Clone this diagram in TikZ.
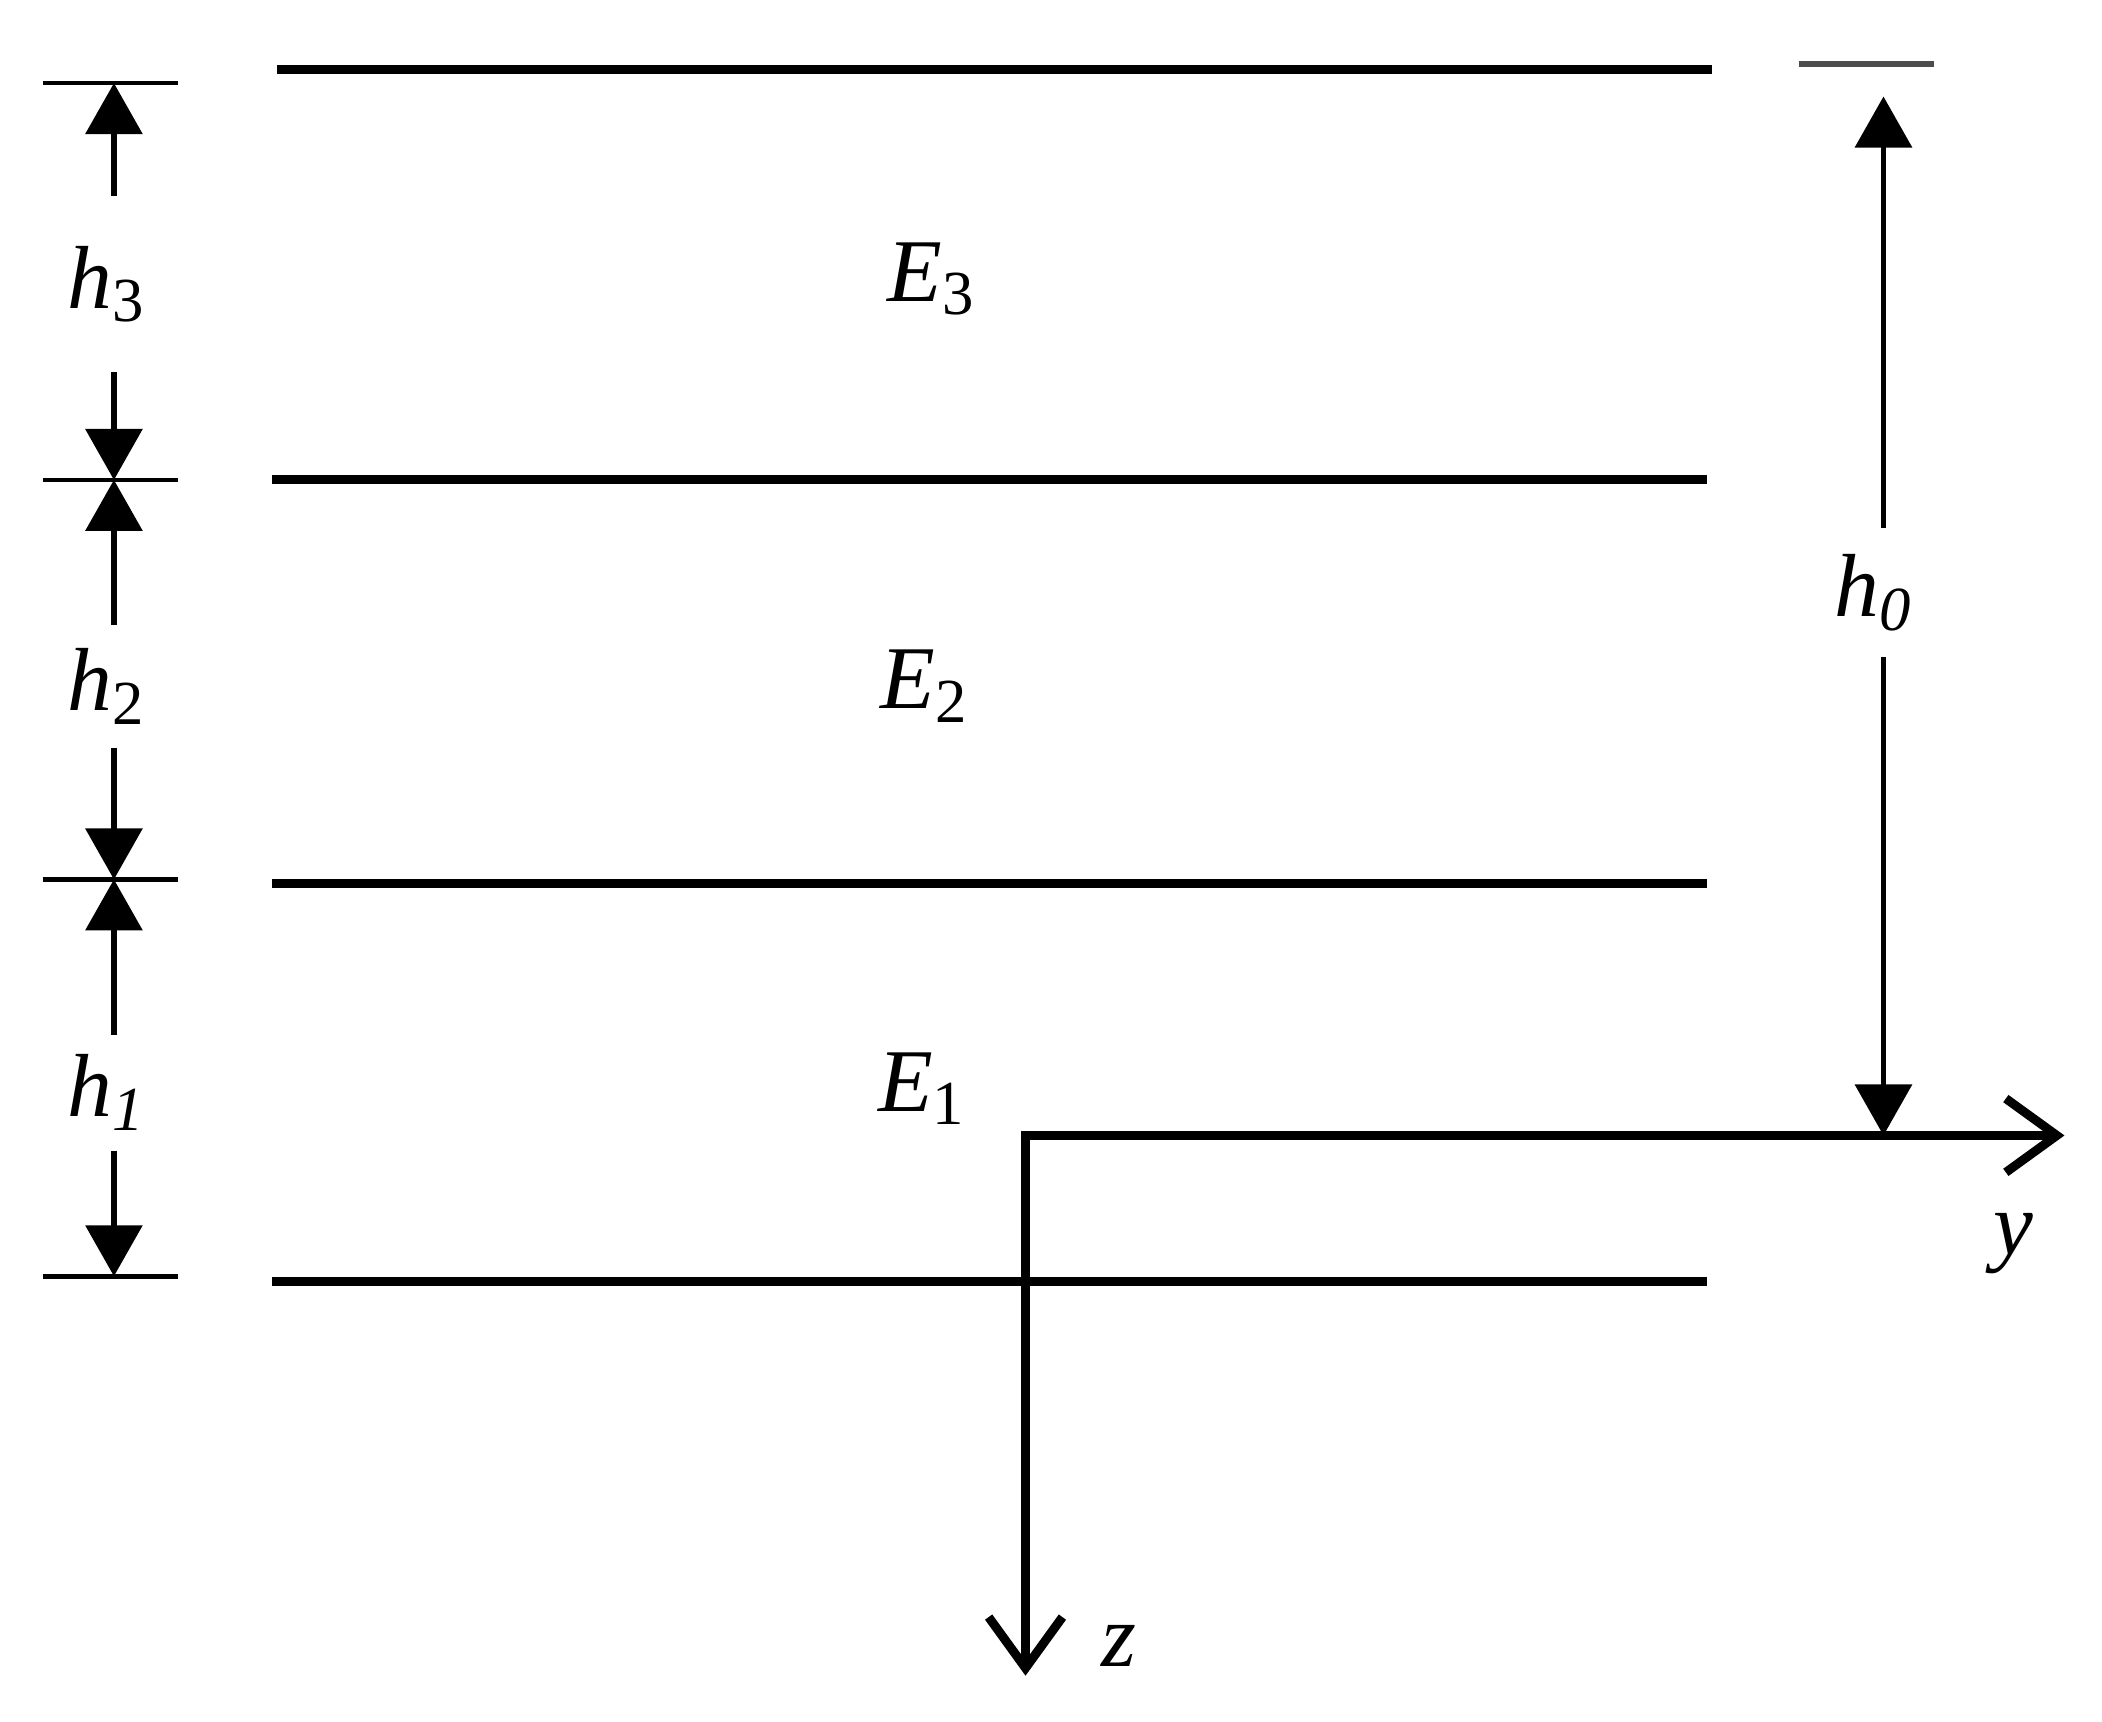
\documentclass[tikz,border=0pt]{standalone}
\usepackage{fontspec}
\setmainfont{Liberation Serif}
\usetikzlibrary{arrows.meta}
\begin{document}
\begin{tikzpicture}[x=0.01cm,y=-0.01cm,
  layer/.style={line width=1.9pt},
  tickln/.style={line width=1.0pt},
  dim/.style={line width=1.1pt,-{Triangle[length=0.38cm,width=0.42cm]}},
  axisln/.style={line width=1.9pt,line join=miter,
    {Straight Barb[length=0.38cm,width=0.55cm,line width=1.9pt]}-{Straight Barb[length=0.38cm,width=0.55cm,line width=1.9pt]}},
  lbl/.style={font=\fontsize{19}{22}\selectfont, inner sep=0pt},
  ]
\useasboundingbox (0,0) rectangle (1568,1284);
% layer boundaries
\coordinate (L3a) at (207,52);  \coordinate (L3b) at (1277,52);
\coordinate (L2a) at (203,358); \coordinate (L2b) at (1273,358);
\coordinate (L1a) at (203,659); \coordinate (L1b) at (1273,659);
\coordinate (L0a) at (203,956); \coordinate (L0b) at (1273,956);
\draw[layer] (L3a) -- (L3b);
\draw[layer] (L2a) -- (L2b);
\draw[layer] (L1a) -- (L1b);
\draw[layer] (L0a) -- (L0b);
% left ticks
\coordinate (T3) at (85,62);
\coordinate (T2) at (85,358);
\coordinate (T1) at (85,656);
\coordinate (T0) at (85,952);
\draw[tickln] (32,62) -- (133,62);
\draw[tickln] (32,358) -- (133,358);
\draw[tickln] (32,656) -- (133,656);
\draw[tickln] (32,952) -- (133,952);
% thickness labels
\node[lbl, minimum height=1.3cm] (h3) at (80,212) {\textit{h}\textsubscript{3}};
\node[lbl, minimum height=0.9cm] (h2) at (80,512) {\textit{h}\textsubscript{2}};
\node[lbl, minimum height=0.85cm] (h1) at (80,815) {\textit{h}\textsubscript{\textit{1}}};
\draw[dim] (h3.north -| T3) -- (T3);
\draw[dim] (h3.south -| T3) -- (T2);
\draw[dim] (h2.north -| T2) -- (T2);
\draw[dim] (h2.south -| T2) -- (T1);
\draw[dim] (h1.north -| T1) -- (T1);
\draw[dim] (h1.south -| T1) -- (T0);
% layer labels
\node[lbl] (E3) at (695,208) {\textit{E}\textsubscript{3}};
\node[lbl] (E2) at (690,512) {\textit{E}\textsubscript{2}};
\node[lbl] (E1) at (688,812) {\textit{E}\textsubscript{1}};
% axes
\coordinate (O) at (765,847);
\coordinate (Yend) at (1540,847);
\coordinate (Zend) at (765,1250);
\draw[axisln] (Zend) -- (O) -- (Yend);
\node[lbl] (ylab) at (1502,928) {\textit{y}};
\node[lbl] (zlab) at (835,1228) {\textit{z}};
% h0
\draw[line width=1.3pt, black!70] (1342,48) -- (1443,48);
\coordinate (H0top) at (1405,72);
\coordinate (H0bot) at (1405,847);
\node[lbl, minimum height=0.95cm] (h0) at (1398,442) {\textit{h}\textsubscript{\textit{0}}};
\draw[dim] (h0.north -| H0top) -- (H0top);
\draw[dim] (h0.south -| H0top) -- (H0bot);
\end{tikzpicture}
\end{document}
